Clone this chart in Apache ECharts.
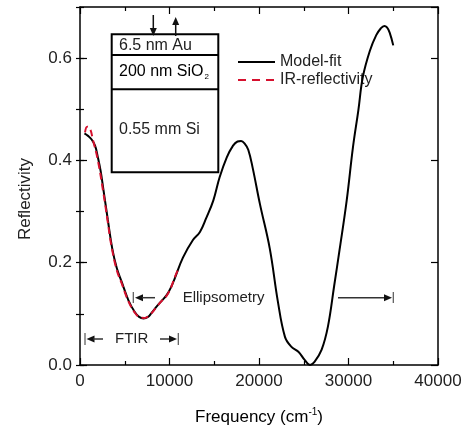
<!DOCTYPE html>
<html><head><meta charset="utf-8">
<script src="https://cdn.jsdelivr.net/npm/echarts@6/dist/echarts.min.js"></script>
<style>html,body{margin:0;padding:0;background:#fff}#c{width:469px;height:429px}</style>
</head><body><div id="c"></div>
<script>
const xTicks = [0, 10000, 20000, 30000, 40000];
const yTicks = [0.0, 0.2, 0.4, 0.6];
const seriesNames = ['Model-fit', 'IR-reflectivity'];
const modelFit = [[500,0.453],[900,0.448],[1300,0.441],[1700,0.428],[2000,0.406],[2300,0.38],[2600,0.345],[3100,0.285],[3600,0.228],[4100,0.19],[4650,0.163],[5400,0.127],[6100,0.104],[6600,0.094],[7100,0.091],[7600,0.094],[8000,0.102],[8600,0.115],[9100,0.125],[9700,0.137],[10200,0.153],[10600,0.170],[11500,0.210],[12600,0.244],[13400,0.26],[14100,0.287],[14900,0.322],[15600,0.367],[16400,0.406],[17100,0.429],[17600,0.437],[18000,0.438],[18400,0.433],[18800,0.421],[19300,0.385],[20100,0.315],[21200,0.228],[22100,0.125],[22900,0.055],[23600,0.036],[24400,0.026],[25100,0.010],[25700,0.0],[26200,0.006],[27000,0.030],[27700,0.075],[28400,0.155],[29000,0.225],[29800,0.322],[30500,0.426],[31100,0.498],[31600,0.563],[32400,0.615],[33100,0.645],[33600,0.658],[34000,0.663],[34300,0.660],[34600,0.650],[35000,0.625]];
const irReflectivity = [[560,0.455],[800,0.466],[1100,0.463],[1450,0.440],[2000,0.400],[2600,0.338],[3100,0.28],[3500,0.234],[4100,0.186],[4650,0.160],[5400,0.125],[6100,0.103],[6700,0.093],[7200,0.092],[7800,0.098],[8500,0.112],[9100,0.125],[9700,0.136],[10200,0.153],[10600,0.172],[11000,0.188]];

const FONT = 'Liberation Sans, Arial, Helvetica, sans-serif';
const TXT = '#222';
const RED = '#d6102e';
const chart = echarts.init(document.getElementById('c'), null, {renderer:'canvas'});
const axLine = {show:true, onZero:false, lineStyle:{color:'#000', width:1.5}};
function xAx(pos, labels){
  return {type:'value', position:pos, min:0, max:40000, interval:10000,
    axisLine:axLine, splitLine:{show:false},
    axisTick:{show:true, inside:true, length:7, lineStyle:{color:'#000',width:1.2}},
    minorTick:{show:true, splitNumber:2, length:4, lineStyle:{color:'#000',width:1.2}},
    axisLabel:{show:labels, margin:8, fontSize:17, fontFamily:FONT, color:TXT,
      formatter:v=>xTicks.includes(v)?String(v):''}};
}
function yAx(pos, major, labels){
  return {type:'value', position:pos, min:0, max:0.7, interval: major?0.2:0.1,
    axisLine: major?axLine:{show:false}, splitLine:{show:false},
    axisTick:{show:true, inside:true, length: major?7:4, lineStyle:{color:'#000',width:1.2}},
    axisLabel:{show:labels, margin:8, fontSize:17, fontFamily:FONT, color:TXT, showMaxLabel:false,
      formatter:v=>{const t=yTicks.find(k=>Math.abs(k-v)<1e-9); return t===undefined?'':t.toFixed(1);}}};
}
function arrowHead(tipX, tipY, dir){
  const L=8, W=3.5;
  let pts;
  if(dir==='l') pts=[[tipX,tipY],[tipX+L,tipY-W],[tipX+L,tipY+W]];
  if(dir==='r') pts=[[tipX,tipY],[tipX-L,tipY-W],[tipX-L,tipY+W]];
  if(dir==='d') pts=[[tipX,tipY],[tipX-W,tipY-L],[tipX+W,tipY-L]];
  if(dir==='u') pts=[[tipX,tipY],[tipX-W,tipY+L],[tipX+W,tipY+L]];
  return {type:'polygon', shape:{points:pts}, style:{fill:'#111'}};
}
function ln(x1,y1,x2,y2,c,w,dash){return {type:'line', shape:{x1,y1,x2,y2}, style:{stroke:c||'#333', lineWidth:w||1.5, lineDash:dash||null}};}
const bx1=111.7, bx2=218.3, by1=34.3, by2=172.3;
const graphics = [
  {type:'rect', shape:{x:bx1,y:by1,width:bx2-bx1,height:by2-by1}, style:{fill:'#fff', stroke:'#000', lineWidth:2}},
  ln(bx1,55,bx2,55,'#000',2), ln(bx1,89.3,bx2,89.3,'#000',2),
  {type:'text', x:119, y:45.5, style:{text:'6.5 nm Au', font:'16px '+FONT, fill:TXT, verticalAlign:'middle'}},
  {type:'text', x:119, y:72, style:{text:'{a|200 nm SiO}{s|2}', verticalAlign:'middle',
     rich:{a:{fontSize:16, fontFamily:FONT, color:TXT}, s:{fontSize:8, fontFamily:FONT, color:TXT, padding:[10,0,0,1]}}}},
  {type:'text', x:119, y:130, style:{text:'0.55 mm Si', font:'16px '+FONT, fill:TXT, verticalAlign:'middle'}},
  ln(153.3,15,153.3,30,'#111',1.5), arrowHead(153.3,36,'d'),
  ln(175.7,36,175.7,22,'#111',1.5), arrowHead(175.7,17,'u'),
  // legend
  ln(238,62,275,62,'#000',2),
  {type:'text', x:280, y:62, style:{text:seriesNames[0], font:'16px '+FONT, fill:TXT, verticalAlign:'middle'}},
  ln(238,80,275,80,RED,2,[8,6]),
  {type:'text', x:280, y:80, style:{text:seriesNames[1], font:'16px '+FONT, fill:TXT, verticalAlign:'middle'}},
  // Ellipsometry
  ln(133.3,292,133.3,303,'#555',1.2), arrowHead(135,297.7,'l'), ln(142,297.7,155,297.7,'#333',1.5),
  {type:'text', x:182.7, y:297.7, style:{text:'Ellipsometry', font:'15px '+FONT, fill:TXT, verticalAlign:'middle'}},
  ln(338,297.7,386,297.7,'#333',1.5), arrowHead(392,297.7,'r'), ln(393.3,292,393.3,303,'#555',1.2),
  // FTIR
  ln(85,333,85,345,'#555',1.2), arrowHead(86.5,339,'l'), ln(93,339,103,339,'#333',1.5),
  {type:'text', x:115, y:339, style:{text:'FTIR', font:'15px '+FONT, fill:TXT, verticalAlign:'middle'}},
  ln(160,339,171,339,'#333',1.5), arrowHead(177,339,'r'), ln(178.3,333,178.3,345,'#555',1.2),
  // axis names
  {type:'text', x:25, y:199, rotation:Math.PI/2, style:{text:'Reflectivity', font:'17px '+FONT, fill:TXT, align:'center', verticalAlign:'middle'}},
  {type:'text', x:259, y:417, style:{text:'{a|Frequency (cm}{s|-1}{a|)}', align:'center', verticalAlign:'middle',
     rich:{a:{fontSize:17, fontFamily:FONT, color:TXT}, s:{fontSize:10, fontFamily:FONT, color:TXT, padding:[0,0,10,0]}}}}
];
chart.setOption({
  animation:false,
  backgroundColor:'#fff',
  grid:{left:80, right:31, top:7, bottom:64, containLabel:false},
  xAxis:[xAx('bottom', true), xAx('top', false)],
  yAxis:[yAx('left', true, true), yAx('left', false, false), yAx('right', true, false), yAx('right', false, false)],
  series:[
    {name:seriesNames[0], type:'line', xAxisIndex:0, yAxisIndex:0, data:modelFit, smooth:0.4, symbol:'none',
     lineStyle:{color:'#000', width:2}, itemStyle:{color:'#000'}, z:3},
    {name:seriesNames[1], type:'line', xAxisIndex:0, yAxisIndex:0, data:irReflectivity, smooth:0.4, symbol:'none',
     lineStyle:{color:RED, width:2, type:[7,4]}, itemStyle:{color:RED}, z:4}
  ],
  graphic:graphics
});
</script></body></html>
